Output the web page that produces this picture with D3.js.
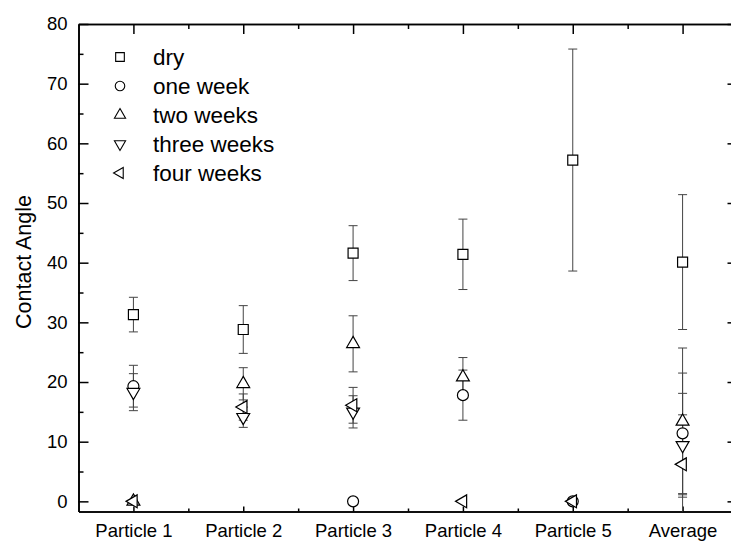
<!DOCTYPE html>
<html>
<head>
<meta charset="utf-8">
<script src="https://cdn.jsdelivr.net/npm/d3@7"></script>
<style>
  body { margin: 0; background: #fff; }
  text { font-family: "Liberation Sans", Arial, sans-serif; fill: #000; }
</style>
</head>
<body>
<svg width="731" height="541"></svg>
<script>
(function () {

  // data (null = no point)
  const categories = ["Particle 1", "Particle 2", "Particle 3", "Particle 4", "Particle 5", "Average"];
  const seriesNames = ["dry", "one week", "two weeks", "three weeks", "four weeks"];
  const dry = [31.3, 28.8, 41.6, 41.4, 57.2, 40.1];
  const dryErr = [2.9, 4.0, 4.6, 5.9, 18.6, 11.3];
  const oneWeek = [19.3, null, 0, 17.8, 0, 11.4];
  const oneWeekErr = [3.5, null, 0, 4.2, 0, 10.1];
  const twoWeeks = [0, 19.7, 26.4, 20.8, null, 13.4];
  const twoWeeksErr = [0, 2.7, 4.7, 3.3, null, 12.3];
  const threeWeeks = [18.3, 14.1, 15.0, null, null, 9.4];
  const threeWeeksErr = [3.1, 1.7, 2.7, null, null, 8.7];
  const fourWeeks = [0, 15.8, 16.1, 0, 0, 6.2];
  const fourWeeksErr = [0, 2.2, 3.0, 0, 0, 8.3];
  const yMajor = [0, 10, 20, 30, 40, 50, 60, 70, 80];
  const yMinor = [5, 15, 25, 35, 45, 55, 65, 75];

  const series = [
    { name: seriesNames[0], values: dry, errs: dryErr, shape: d3.symbolSquare, size: 100, rot: 0 },
    { name: seriesNames[1], values: oneWeek, errs: oneWeekErr, shape: d3.symbolCircle, size: 95, rot: 0 },
    { name: seriesNames[2], values: twoWeeks, errs: twoWeeksErr, shape: d3.symbolTriangle, size: 72, rot: 0 },
    { name: seriesNames[3], values: threeWeeks, errs: threeWeeksErr, shape: d3.symbolTriangle, size: 72, rot: 180 },
    { name: seriesNames[4], values: fourWeeks, errs: fourWeeksErr, shape: d3.symbolTriangle, size: 72, rot: -90 }
  ];

  const left = 78.5, right = 737.5, top = 24, bottom = 511.5;

  const x = d3.scalePoint().domain(categories).range([left, right]).padding(0.5);
  const xLin = d3.scaleLinear().domain([-0.5, categories.length - 0.5]).range([left, right]);
  const y = d3.scaleLinear().domain([-1.7, 80]).range([bottom, top]);

  const svg = d3.select("svg");

  svg.append("defs").append("clipPath").attr("id", "plot")
    .append("rect").attr("x", left).attr("y", top)
    .attr("width", right - left).attr("height", bottom - top);

  // axes, ticks pointing inward
  function styleAxis(g) {
    g.selectAll("path").attr("stroke", "#000").attr("stroke-width", 1.6);
    g.selectAll("line").attr("stroke", "#000").attr("stroke-width", 1.5);
    g.selectAll("text").attr("font-size", 18.5).attr("font-family", null);
  }

  svg.append("g").attr("transform", `translate(${left},0)`)
    .call(d3.axisLeft(y).tickValues(yMajor).tickSize(-10).tickSizeOuter(0).tickPadding(11))
    .call(styleAxis);
  svg.append("g").attr("transform", `translate(${left},0)`)
    .call(d3.axisLeft(y).tickValues(yMinor).tickSize(-5).tickSizeOuter(0).tickFormat(""))
    .call(styleAxis);
  svg.append("g").attr("transform", `translate(${right},0)`)
    .call(d3.axisRight(y).tickValues(yMajor).tickSize(-10).tickSizeOuter(0).tickFormat(""))
    .call(styleAxis);
  svg.append("g").attr("transform", `translate(${right},0)`)
    .call(d3.axisRight(y).tickValues(yMinor).tickSize(-5).tickSizeOuter(0).tickFormat(""))
    .call(styleAxis);

  const minorX = d3.range(categories.length - 1).map(i => i + 0.5);

  svg.append("g").attr("transform", `translate(0,${bottom})`)
    .call(d3.axisBottom(x).tickSize(-5).tickSizeOuter(0).tickPadding(12.5))
    .call(styleAxis);
  svg.append("g").attr("transform", `translate(0,${bottom})`)
    .call(d3.axisBottom(xLin).tickValues(minorX).tickSize(-3).tickSizeOuter(0).tickFormat(""))
    .call(styleAxis);
  svg.append("g").attr("transform", `translate(0,${top})`)
    .call(d3.axisTop(x).tickSize(-10).tickSizeOuter(0).tickFormat(""))
    .call(styleAxis);
  svg.append("g").attr("transform", `translate(0,${top})`)
    .call(d3.axisTop(xLin).tickValues(minorX).tickSize(-5).tickSizeOuter(0).tickFormat(""))
    .call(styleAxis);

  // y axis title
  svg.append("text")
    .attr("transform", `translate(31,262) rotate(-90)`)
    .attr("text-anchor", "middle")
    .attr("font-size", 21.5)
    .text("Contact Angle");

  const plot = svg.append("g").attr("clip-path", "url(#plot)");

  // error bars first, markers on top
  const capW = 4.5;
  series.forEach(s => {
    const pts = categories.map((c, i) => ({ c, v: s.values[i], e: s.errs[i] }))
      .filter(p => p.v !== null && p.e > 0);
    const g = plot.append("g").attr("stroke", "#444").attr("stroke-width", 1);
    g.selectAll(".bar").data(pts).enter().append("line")
      .attr("x1", p => x(p.c)).attr("x2", p => x(p.c))
      .attr("y1", p => y(p.v - p.e)).attr("y2", p => y(p.v + p.e));
    g.selectAll(".capTop").data(pts).enter().append("line")
      .attr("x1", p => x(p.c) - capW).attr("x2", p => x(p.c) + capW)
      .attr("y1", p => y(p.v + p.e)).attr("y2", p => y(p.v + p.e));
    g.selectAll(".capBot").data(pts).enter().append("line")
      .attr("x1", p => x(p.c) - capW).attr("x2", p => x(p.c) + capW)
      .attr("y1", p => y(p.v - p.e)).attr("y2", p => y(p.v - p.e));
  });

  series.forEach(s => {
    const pts = categories.map((c, i) => ({ c, v: s.values[i] })).filter(p => p.v !== null);
    plot.append("g").selectAll("path").data(pts).enter().append("path")
      .attr("d", d3.symbol(s.shape, s.size))
      .attr("transform", p => `translate(${x(p.c)},${y(p.v)}) rotate(${s.rot})`)
      .attr("fill", "#fff")
      .attr("stroke", "#000")
      .attr("stroke-width", 1.2);
  });

  // legend
  const legend = svg.append("g");
  const rows = legend.selectAll("g").data(series).enter().append("g")
    .attr("transform", (s, i) => `translate(120,${57 + i * 29})`);
  rows.append("path")
    .attr("d", s => d3.symbol(s.shape, s.size * 0.75)())
    .attr("transform", s => `rotate(${s.rot})`)
    .attr("fill", "#fff")
    .attr("stroke", "#000")
    .attr("stroke-width", 1.1);
  rows.append("text")
    .attr("x", 33)
    .attr("y", 8)
    .attr("font-size", 22.5)
    .text(s => s.name);
})();
</script>
</body>
</html>
